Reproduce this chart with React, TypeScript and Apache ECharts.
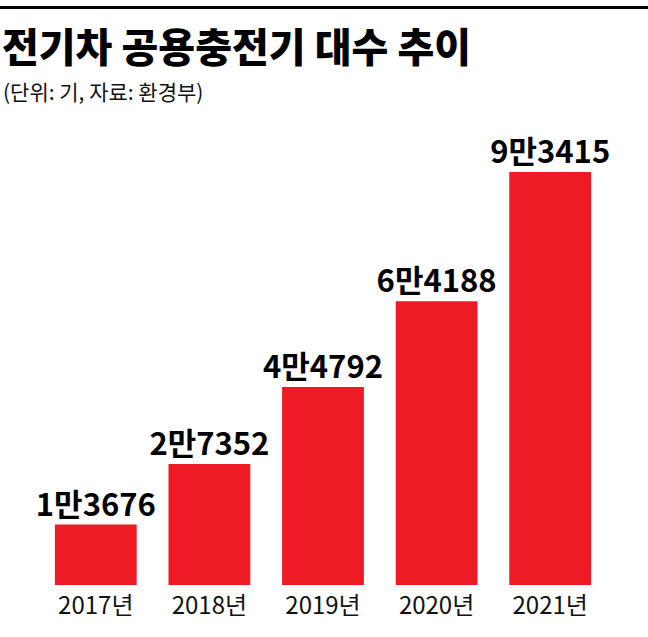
import { useEffect, useRef } from "react"
import * as echarts from "echarts"

const years = ["2017년", "2018년", "2019년", "2020년", "2021년"]
const chargers = [13676, 27352, 44792, 64188, 93415]
const valueLabels = ["1만3676", "2만7352", "4만4792", "6만4188", "9만3415"]

const KR = '"Noto Sans CJK KR", "Noto Sans", sans-serif'

export default function App() {
  const chartRef = useRef<HTMLDivElement>(null)

  useEffect(() => {
    if (!chartRef.current) return
    const chart = echarts.init(chartRef.current, null, { renderer: "svg" })

    chart.setOption({
      animation: false,
      backgroundColor: "#ffffff",
      title: [
        {
          text: "전기차 공용충전기 대수 추이",
          left: -3,
          top: 20,
          textStyle: { fontFamily: KR, fontSize: 40, fontWeight: 900, color: "#000" },
        },
        {
          text: "(단위: 기, 자료: 환경부)",
          left: -2,
          top: 75,
          textStyle: { fontFamily: KR, fontSize: 21, fontWeight: 400, color: "#111" },
        },
      ],
      graphic: [
        { type: "rect", left: 0, top: 6, shape: { width: 648, height: 3 }, style: { fill: "#000" } },
      ],
      grid: { left: 39, right: 41, top: 143, bottom: 52 },
      xAxis: {
        type: "category",
        data: years,
        axisLine: { show: false },
        axisTick: { show: false },
        axisLabel: { fontFamily: KR, fontSize: 24, color: "#111", margin: 6 },
      },
      yAxis: {
        type: "value",
        min: 0,
        max: 100000,
        show: false,
      },
      series: [
        {
          type: "bar",
          data: chargers,
          barWidth: "72%",
          itemStyle: { color: "#ed1c24" },
          label: {
            show: true,
            position: "top",
            distance: 7,
            fontFamily: KR,
            fontSize: 31,
            fontWeight: 700,
            color: "#000",
            formatter: (p: any) => valueLabels[p.dataIndex],
          },
        },
      ],
    })

    return () => {
      chart.dispose()
    }
  }, [])

  return (
    <div
      ref={chartRef}
      style={{ position: "fixed", left: 0, top: 0, width: 648, height: 637 }}
    />
  )
}
